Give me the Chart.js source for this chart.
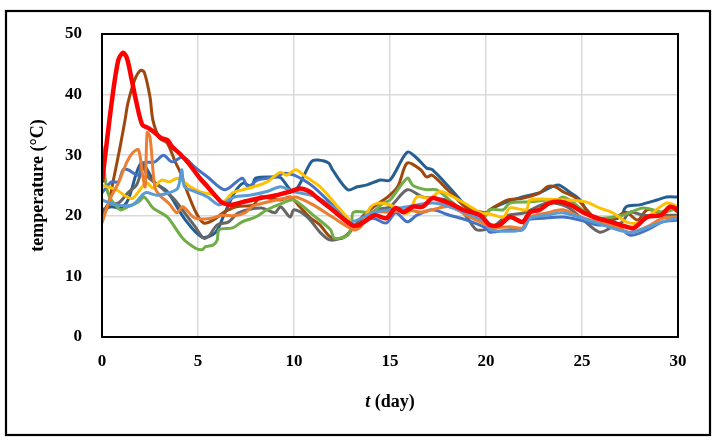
<!DOCTYPE html>
<html><head><meta charset="utf-8">
<script src="https://cdn.jsdelivr.net/npm/chart.js@4"></script>
<style>html,body{margin:0;padding:0;background:#fff}</style>
</head><body>
<canvas id="c" width="719" height="443"></canvas>
<script>
// ---- data (day, temperature °C) ----
const xTicks = [0, 5, 10, 15, 20, 25, 30];
const yTicks = [0, 10, 20, 30, 40, 50];

const redDays  = [0,0.5,0.85,1.1,1.3,1.55,1.8,2.1,2.4,2.75,3.1,3.4,3.65,4.0,4.5,5.1,5.5,6.1,6.25,6.7,7.35,8.2,9.1,9.8,10.3,10.8,11.2,12,13,13.4,14.2,14.8,15.3,15.7,16.2,16.7,17.2,17.6,18.1,18.8,19.7,20.2,20.7,21.25,21.9,22.3,22.8,23.3,23.85,24.4,25.05,25.8,26.5,27.3,27.7,28.4,29.1,29.6,30];
const redTemp  = [25.5,38.6,45.7,46.9,46,42.4,38.6,35,34.5,33.7,32.8,32.5,31.4,30.4,28.7,26.2,24.8,22.6,22.2,21.8,22.3,22.9,23.4,24,24.5,24,23,21,18.5,18.5,20.1,19.6,21.3,20.6,21.5,21.5,22.9,22.6,22.1,21,20.1,18.5,18.5,19.8,19,20.6,21,22.1,22.3,21.8,20.6,19.6,19,18.2,18,19.8,20.1,21.5,21];

const brownDays = [0,0.3,0.6,0.95,1.2,1.35,1.7,2.0,2.2,2.5,2.65,3.0,3.4,3.8,4.1,4.4,4.9,5.3,5.8,6.3,7.0,7.9,8.2,8.75,9.3,9.8,10.3,10.8,11.35,11.9,12.5,12.9,13.6,14.5,14.8,15.4,15.9,16.6,16.9,17.2,18,18.3,19,20,20.2,21.1,21.9,22.8,23.2,23.6,24,24.7,25.25,25.9,26.8,27.3,27.9,28.4,29.1,29.6,30];
const brownTemp = [20,21.5,26,31.5,35.8,38.6,42.4,44,43.7,39.6,35.8,32.8,32,29,27,24.3,20.5,18.8,19.3,20.5,21.5,21.8,23.1,22.9,22.6,23.1,21.5,19.8,18.5,16.5,16.3,17.3,20,22.3,22.9,24.8,28.7,27.6,26.4,26.7,24.3,23.4,21.3,20.5,21,22.6,22.9,23.8,24.8,24.8,24,22.9,21,19,19.8,20.6,19.3,21,20.5,21.3,20.6];

const darkBlueDays = [0,0.5,0.95,1.35,2.05,2.75,3.4,4.3,5.2,5.9,6.4,6.9,7.35,7.8,8,9,9.3,10,10.9,11.25,11.8,12,12.8,13.3,13.8,14.5,15,15.9,16.4,16.9,17.2,18.2,19,19.8,20.2,21.1,21.9,22.8,23.75,24.4,24.9,25.4,26.1,27,27.3,28,28.9,29.4,30];
const darkBlueTemp = [21,21.5,21.3,22.6,28.7,25.5,24,19.5,16.5,17.2,20.5,23.8,25.4,24.8,26.2,26.4,26.3,24,28.9,29.2,28.7,27.6,24.3,24.8,25.1,25.9,25.9,30.5,29.5,27.9,27.6,24.3,21.5,19.8,21,22.3,23.1,23.8,25.1,23.8,22.6,20.1,19.3,19.8,21.5,21.8,22.6,23.1,23.1];

const blueDays = [0,0.5,0.85,1.1,1.35,1.9,2.1,2.75,3.2,3.65,4.2,4.85,5.5,6.4,7.3,7.6,8.1,9,9.5,10,10.5,11,11.9,12.9,13.4,14.1,14.8,15.3,15.9,16.4,17.2,18.1,19,20,20.2,21.25,21.9,22.1,23,24,24.9,25.8,26.8,27.5,28.4,29.2,30];
const blueTemp = [23.8,25.6,25.6,27.6,27.6,26.7,28.7,28.9,30,28.9,29.7,28,26.4,24.3,26.2,24.8,25.9,26.4,27,26.7,25.9,24.8,22.1,18.8,18.5,19.6,18.8,20.5,19,20.1,21,20.1,19.3,18,17.3,17.7,17.7,19.3,19.6,19.8,19.3,18.5,18.5,16.8,17.7,19,19.3];

const orangeDays = [0,0.4,0.85,1.3,1.6,1.9,2.1,2.25,2.35,2.5,2.75,3,3.5,3.9,4.2,4.85,5.7,6.25,6.9,7.45,7.8,8.05,9.1,9.6,10.1,11,12,13.1,13.4,14.1,15,15.9,16.6,17.2,18.1,19,20,20.2,21.25,21.9,22.3,23.2,24,24.9,25.8,26.8,27.5,28.4,29.2,30];
const orangeTemp = [18.8,22.6,25.4,28.9,30.4,30.9,27,24.8,33.7,33,24.8,23.4,22,20.5,21.5,19.6,19.6,20.1,20,20.5,21.5,21.8,22.6,22.9,23.1,21.8,19.8,17.7,18,20.5,20.6,21,20.6,21,21.5,20.1,18.5,18,18.2,18,19.8,20.5,21,19.8,19,18.2,17.2,18.2,19.6,19.8];

const goldDays = [0,0.75,1.3,1.6,2.1,2.35,2.65,3.1,3.5,3.95,4.6,5.1,5.8,6.3,6.8,7.35,7.9,8.6,9.3,9.6,10.1,10.5,11.35,12.2,12.9,13.4,14,14.5,15.2,15.7,16,16.4,17.1,17.6,18.3,19.3,19.7,20.2,20.9,21.25,22.1,22.3,24,25.2,25.9,26.6,27.3,27.9,28.4,29.4,30];
const goldTemp = [25,24.3,23.1,22.9,24.8,25.4,24.6,25.9,25.6,26.2,24.8,24,23.4,22.3,23.8,24.3,24.8,25.6,27.2,26.7,27.6,26.7,24.8,21.8,19.3,18,21.5,22.1,21.5,20.5,20.6,23.1,22.9,24,23.1,21.3,20.5,20.3,19.8,21.3,21,22.6,22.6,22.3,21.3,20.5,19,18.8,19.8,22.1,21.5];

const lightBlueDays = [0,0.75,1.6,2.25,2.85,3.5,3.95,4.15,4.3,4.85,5.5,6.1,6.9,7.7,8.6,9.3,9.95,11,12,12.9,14.1,15,15.9,17.2,18.1,20,20.2,21.9,22.3,23.2,24,25.8,27.5,29.2,30];
const lightBlueTemp = [22.6,21.8,21.8,23.8,23.4,23.8,24.6,27.6,24.8,24,23.1,21.8,23.1,23.4,24,24.8,24,23.3,21.5,19,20.5,21,21.5,22.1,21.5,19,17.7,17.7,19.6,20.1,20.5,18.8,17.3,19,19.6];

const grayDays = [0,0.3,0.85,1.35,1.8,2.15,2.4,3.1,3.8,4.3,4.85,5.3,5.6,6,6.6,7.1,8.3,9,9.3,9.8,10,10.7,11.35,11.9,12.75,13.1,13.8,14.3,15,15.9,16.7,18,18.5,19,19.5,20.05,20.5,21.1,22,23.2,24.2,24.9,25.9,26.6,27.1,27.5,28.2,29.2,30];
const grayTemp = [19.8,21.8,22.1,23.8,25.1,28,26.4,24.6,22.6,20.5,18.2,16.3,16.8,18.5,19,20.5,21.3,20.5,21.5,19.8,21,19.8,17.3,16,16.8,18.2,19.8,21,21.5,24.3,23.1,22.6,21.5,19.8,17.7,17.8,18.5,20,20.5,22.1,21.5,19.8,17.3,18.2,19,20.6,20.1,20.1,20.1];

const greenDays = [0,0.3,0.95,1.35,1.9,2.2,2.65,3.4,4.2,4.85,5.2,5.4,5.8,6.0,6.1,6.8,7.3,8,8.6,9.4,10,11,11.9,12.1,12.8,13,13.1,14.1,14.6,15,15.9,16.2,16.9,17.4,18.1,19,19.8,20.2,20.9,21.25,22.3,23.2,23.7,24,24.5,25.2,25.9,27.1,28.2,29.2,30];
const greenTemp = [31.5,23.8,21,21.5,22.3,23.1,21.3,19.8,16.3,14.7,14.4,14.9,15.2,16,17.7,18,19,19.8,21,22.1,22.6,20.1,17.7,16.3,16.8,18.5,20.6,20.6,22,22.6,26.2,25,24.3,24.3,22.6,20.1,19.3,21,21,22.1,22.3,22.6,22.6,23.1,22.3,20.5,19.6,20.1,21.3,20.6,21.3];

function pts(d, t) { return d.map((x, i) => ({ x: x, y: t[i] })); }

const series = [
  { d: redDays, t: redTemp, c: '#FF0000', w: 4.5 },
  { d: lightBlueDays, t: lightBlueTemp, c: '#5B9BD5', w: 3 },
  { d: orangeDays, t: orangeTemp, c: '#ED7D31', w: 3 },
  { d: goldDays, t: goldTemp, c: '#FFC000', w: 3 },
  { d: blueDays, t: blueTemp, c: '#4472C4', w: 3 },
  { d: greenDays, t: greenTemp, c: '#70AD47', w: 3 },
  { d: grayDays, t: grayTemp, c: '#666666', w: 3 },
  { d: brownDays, t: brownTemp, c: '#9E480E', w: 3 },
  { d: darkBlueDays, t: darkBlueTemp, c: '#255E91', w: 3 }
];

const datasets = series.map(s => ({
  data: pts(s.d, s.t), borderColor: s.c, borderWidth: s.w,
  pointRadius: 0, tension: 0.3, fill: false
}));

const FONT = "'Liberation Serif', 'DejaVu Serif', serif";

const framePlugin = {
  id: 'frame',
  beforeDraw(chart) {
    const c = chart.ctx;
    c.save(); c.fillStyle = '#fff'; c.fillRect(0, 0, chart.width, chart.height); c.restore();
  },
  afterDraw(chart) {
    const c = chart.ctx, a = chart.chartArea;
    c.save();
    c.strokeStyle = '#000';
    c.lineWidth = 2;
    c.strokeRect(a.left, a.top, a.right - a.left, a.bottom - a.top);
    c.lineWidth = 2.2;
    c.strokeRect(6, 11, 704, 424);
    // x-axis title with italic t
    const cx = (a.left + a.right) / 2, cy = 402;
    c.fillStyle = '#000';
    c.textBaseline = 'middle';
    const f1 = "italic bold 18px " + FONT, f2 = "bold 18px " + FONT;
    c.font = f1; const w1 = c.measureText('t').width;
    c.font = f2; const w2 = c.measureText(' (day)').width;
    let x0 = cx - (w1 + w2) / 2;
    c.textAlign = 'left';
    c.font = f1; c.fillText('t', x0, cy);
    c.font = f2; c.fillText(' (day)', x0 + w1, cy);
    c.restore();
  }
};

new Chart(document.getElementById('c'), {
  type: 'line',
  data: { datasets },
  plugins: [framePlugin],
  options: {
    responsive: false, animation: false, devicePixelRatio: 1,
    layout: { padding: { left: 0, right: 41, top: 34, bottom: 0 } },
    plugins: { legend: { display: false }, tooltip: { enabled: false } },
    scales: {
      x: {
        type: 'linear', min: 0, max: 30,
        afterFit(s) { s.height = 106; },
        afterBuildTicks(s) { s.ticks = xTicks.map(v => ({ value: v })); },
        ticks: { color: '#000', padding: 14, font: { family: FONT, size: 17, weight: 'bold' } },
        grid: { color: '#d9d9d9', lineWidth: 1.5, drawTicks: false },
        border: { display: false }
      },
      y: {
        min: 0, max: 50,
        afterFit(s) { s.width = 102; },
        afterBuildTicks(s) { s.ticks = yTicks.map(v => ({ value: v })); },
        ticks: { color: '#000', padding: 20, font: { family: FONT, size: 17, weight: 'bold' } },
        grid: { color: '#d9d9d9', lineWidth: 1.5, drawTicks: false },
        border: { display: false },
        title: { display: true, text: 'temperature (°C)', color: '#000', padding: { top: 28, bottom: 0 },
                 font: { family: FONT, size: 18, weight: 'bold' } }
      }
    }
  }
});
</script>
</body></html>
